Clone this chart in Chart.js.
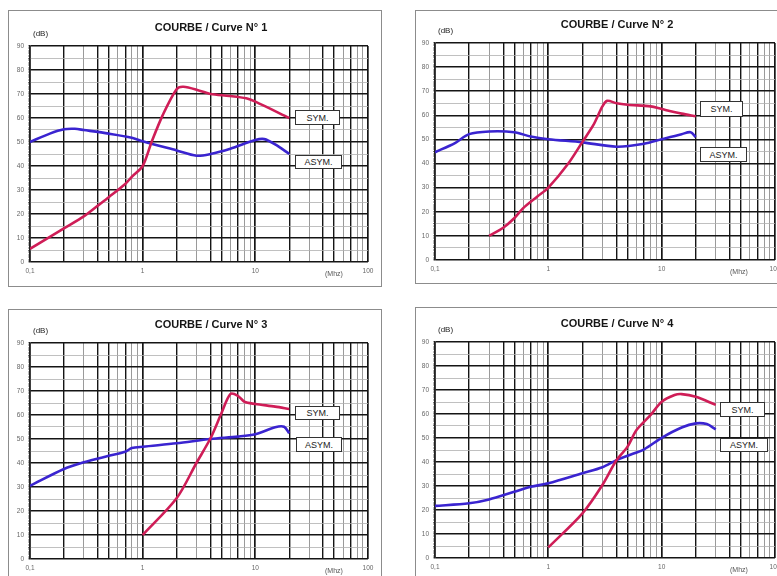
<!DOCTYPE html>
<html>
<head>
<meta charset="utf-8">
<script src="https://cdn.jsdelivr.net/npm/chart.js@4.4.1/dist/chart.umd.min.js"></script>
<style>
  body { margin: 0; width: 777px; height: 576px; overflow: hidden; background: #fff; position: relative;
         font-family: "Liberation Sans", Arial, sans-serif; }
  .frame { position: absolute; border: 1px solid #8c8c8c; }
  canvas { position: absolute; }
  .title { position: absolute; font-weight: bold; font-size: 11px; color: #151515; transform: translate(-50%, -50%); white-space: nowrap; }
  .db { position: absolute; font-size: 8px; color: #222; transform: translateY(-50%); }
  .mhz { position: absolute; font-size: 7px; color: #555; transform: translateY(-50%); }
  .lab { position: absolute; background: #fff; border: 1px solid #333; box-sizing: border-box; font-size: 9px;
         color: #222; display: flex; align-items: center; justify-content: center; }
</style>
</head>
<body>
<script>
// frequency (MHz) and level (dB)
const sym1F = [0.1, 0.2, 0.3, 0.4, 0.5, 0.7, 0.8, 1, 1.2, 1.5, 2, 2.3, 3.2, 4, 5.9, 8.3, 10, 20];
const sym1 = [5.5, 14, 19, 23.5, 27, 32.5, 35.5, 40, 50, 61, 72, 73, 71.4, 70, 69.2, 68.2, 66.8, 60];
const asym1F = [0.1, 0.15, 0.2, 0.25, 0.3, 0.5, 0.8, 1, 2, 3, 4, 6, 10, 12, 15, 20];
const asym1 = [50, 53.5, 55.3, 55.5, 55, 53.5, 51.8, 50.3, 46.5, 44.3, 45, 47.2, 50.8, 51.2, 49, 45];

const sym2F = [0.3, 0.4, 0.5, 0.6, 0.8, 1, 1.5, 2, 2.5, 3, 3.3, 4, 5, 8, 10, 15, 20];
const sym2 = [10, 13.4, 17.3, 21.5, 26.3, 30, 40, 49, 56, 63.7, 66, 65, 64.4, 63.7, 62.6, 60.7, 59.6];
const asym2F = [0.1, 0.15, 0.2, 0.3, 0.5, 0.7, 1, 2, 4, 7, 10, 15, 18, 20];
const asym2 = [44.7, 48.5, 52.2, 53.3, 53, 51.2, 50.1, 48.8, 47, 48.2, 50.1, 52.2, 53, 51];

const sym3F = [1, 2, 3, 4, 5, 6, 7, 8, 10, 15, 20];
const sym3 = [10, 25.3, 40, 50.3, 60.7, 68.7, 68, 65.5, 64.6, 63.5, 62.5];
const asym3F = [0.1, 0.2, 0.3, 0.5, 0.7, 0.8, 1, 2, 4, 7, 10, 15, 18, 20];
const asym3 = [30.5, 37.5, 40.3, 43, 44.7, 46.2, 46.8, 48.2, 50, 51, 52, 54.9, 55.1, 52.4];

const sym4F = [1, 2, 3, 4, 5, 6, 8, 10, 13, 15, 20, 30];
const sym4 = [4.4, 18.6, 30.4, 40.8, 46.4, 53.3, 59.6, 65.1, 67.9, 68.3, 67.2, 63.8];
const asym4F = [0.1, 0.2, 0.3, 0.5, 0.7, 1, 2, 3, 4, 5, 7, 10, 15, 20, 25, 30];
const asym4 = [21.7, 22.8, 24.4, 27.6, 29.7, 31.1, 35.3, 37.8, 40.8, 42.6, 45.3, 50.1, 54.4, 56.1, 55.8, 53.6];

const xMajor = [0.1, 1, 10, 100];
const xTickLabels = ['0,1', '1', '10', '100'];
const seriesNames = ['SYM.', 'ASYM.'];

// grid lines at every 1..9 step of each decade
const xGrid = [];
[0.1, 1, 10].forEach(d => {
  for (let m = 1; m <= 9; m++) xGrid.push(Number((m * d).toFixed(2)));
});
xGrid.push(100);

const redC = '#cf1d57';
const blueC = '#3a24d0';

// page layout of each panel (plot box in px)
const panels = [
  { n: 1, L: 30, R: 368, T: 46, B: 262, box: [8, 10, 372, 275], sym: [sym1F, sym1], asym: [asym1F, asym1],
    labs: [[295, 110, 45, 15], [295, 155, 47, 14]] },
  { n: 2, L: 435, R: 775, T: 43, B: 260, box: [415, 10, 380, 272], sym: [sym2F, sym2], asym: [asym2F, asym2],
    labs: [[700, 101, 43, 16], [700, 147, 47, 15]] },
  { n: 3, L: 30, R: 368, T: 343, B: 559, box: [8, 309, 372, 300], sym: [sym3F, sym3], asym: [asym3F, asym3],
    labs: [[295, 406, 45, 14], [296, 437, 46, 15]] },
  { n: 4, L: 435, R: 775, T: 342, B: 558, box: [415, 307, 380, 300], sym: [sym4F, sym4], asym: [asym4F, asym4],
    labs: [[720, 402, 45, 15], [720, 438, 48, 14]] }
];

function mant(v) {
  const e = Math.floor(Math.log10(v) + 1e-9);
  return Math.round(v / Math.pow(10, e));
}

function add(cls, text, x, y, w, h) {
  const d = document.createElement('div');
  d.className = cls;
  if (text) d.textContent = text;
  d.style.left = x + 'px';
  d.style.top = y + 'px';
  if (w) d.style.width = w + 'px';
  if (h) d.style.height = h + 'px';
  document.body.appendChild(d);
  return d;
}

panels.forEach(p => {
  add('frame', '', p.box[0], p.box[1], p.box[2], p.box[3]);

  const cv = document.createElement('canvas');
  cv.width = p.R - p.L + 60;
  cv.height = p.B - p.T + 70;
  cv.style.left = (p.L - 30) + 'px';
  cv.style.top = (p.T - 40) + 'px';
  document.body.appendChild(cv);

  const pts = (f, v) => f.map((x, i) => ({ x: x, y: v[i] }));

  new Chart(cv, {
    type: 'line',
    data: {
      datasets: [
        { label: seriesNames[0], data: pts(p.sym[0], p.sym[1]), borderColor: redC, borderWidth: 2.6,
          pointRadius: 0, tension: 0.3 },
        { label: seriesNames[1], data: pts(p.asym[0], p.asym[1]), borderColor: blueC, borderWidth: 2.6,
          pointRadius: 0, tension: 0.3 }
      ]
    },
    options: {
      responsive: false,
      animation: false,
      devicePixelRatio: 1,
      layout: { padding: { left: 0, top: 40, right: 30, bottom: 0 } },
      plugins: { legend: { display: false }, tooltip: { enabled: false } },
      scales: {
        x: {
          type: 'logarithmic',
          min: 0.1,
          max: 100,
          afterBuildTicks: s => { s.ticks = xGrid.map(v => ({ value: v })); },
          afterFit: s => { s.height = 30; },
          border: { display: false },
          grid: {
            drawTicks: false,
            color: c => {
              const m = mant(c.tick.value);
              return (m === 1 || m === 2 || m === 4 || m === 5 || m === 7) ? '#151515' : '#8f8f8f';
            },
            lineWidth: c => {
              const m = mant(c.tick.value);
              if (m === 1) return 1.7;
              return (m === 2 || m === 4 || m === 5 || m === 7) ? 1.4 : 0.9;
            }
          },
          ticks: {
            autoSkip: false,
            maxRotation: 0,
            padding: 5,
            color: '#666',
            font: { size: 6.5, family: 'Liberation Sans' },
            callback: v => {
              const i = xMajor.indexOf(v);
              return i >= 0 ? xTickLabels[i] : '';
            }
          }
        },
        y: {
          min: 0,
          max: 90,
          afterFit: s => { s.width = 30; },
          border: { display: true, color: '#222', width: 1.5 },
          grid: {
            tickLength: 2,
            tickWidth: 1,
            tickColor: '#777',
            color: c => c.tick.value % 10 === 0 ? '#151515' : (c.tick.value % 5 === 0 ? '#b0b0b0' : 'rgba(0,0,0,0)'),
            lineWidth: c => c.tick.value % 10 === 0 ? 1.6 : (c.tick.value % 5 === 0 ? 0.8 : 0)
          },
          ticks: {
            stepSize: 1,
            autoSkip: false,
            padding: 4,
            color: '#666',
            font: { size: 6.5, family: 'Liberation Sans' },
            callback: v => v % 10 === 0 ? v : ''
          }
        }
      }
    }
  });

  const midX = p.n % 2 === 1 ? 211 : 617;
  add('title', 'COURBE / Curve N° ' + p.n, midX, p.T - 19);
  add('db', '(dB)', p.L + 3, p.T - 13);
  add('mhz', '(Mhz)', p.L + 295, p.B + 11);
  add('lab', seriesNames[0], p.labs[0][0], p.labs[0][1], p.labs[0][2], p.labs[0][3]);
  add('lab', seriesNames[1], p.labs[1][0], p.labs[1][1], p.labs[1][2], p.labs[1][3]);
});
</script>
</body>
</html>
